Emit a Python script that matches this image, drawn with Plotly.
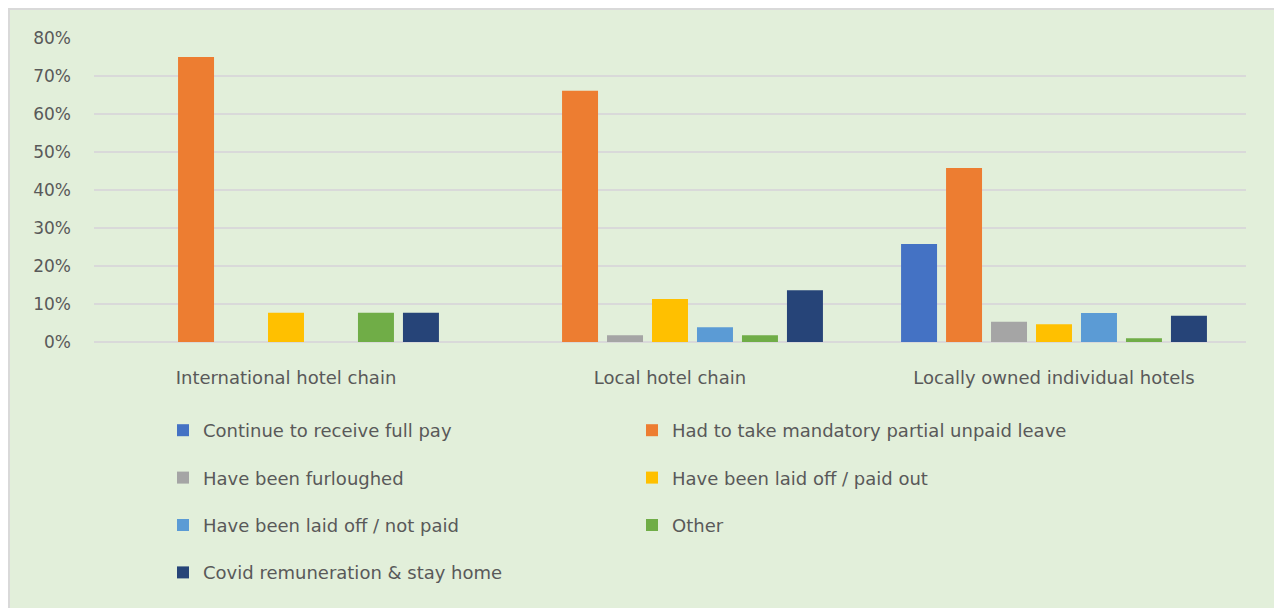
import plotly.graph_objects as go

categories = ["International hotel chain", "Local hotel chain", "Locally owned individual hotels"]

series_names = [
    "Continue to receive full pay",
    "Had to take mandatory partial unpaid leave",
    "Have been furloughed",
    "Have been laid off / paid out",
    "Have been laid off / not paid",
    "Other",
    "Covid remuneration & stay home",
]

full_pay = [0.0, 0.0, 0.258]
unpaid_leave = [0.75, 0.661, 0.458]
furloughed = [0.0, 0.018, 0.053]
laid_off_paid = [0.077, 0.113, 0.047]
laid_off_not_paid = [0.0, 0.039, 0.076]
other = [0.077, 0.018, 0.010]
covid_stay_home = [0.077, 0.136, 0.069]

series_values = [full_pay, unpaid_leave, furloughed, laid_off_paid,
                 laid_off_not_paid, other, covid_stay_home]
colors = ["#4472C4", "#ED7D31", "#A5A5A5", "#FFC000", "#5B9BD5", "#70AD47", "#264478"]
legend_ref = ["legend", "legend2", "legend", "legend2", "legend", "legend2", "legend"]

# page has an 8px body margin; figure coordinates = page coordinates - 8
OFF = 8
W, H = 1282 - OFF, 608 - OFF
L, R, T, B = 94 - OFF, 36, 38 - OFF, 608 - 342
pw, ph = W - L - R, H - T - B

def px_x(x):
    return (x - OFF - L) / pw

def px_y(y):
    return (H - B - (y - OFF)) / ph

FONT = "DejaVu Sans"
TXT = "#595959"

fig = go.Figure()
for name, vals, col, lg in zip(series_names, series_values, colors, legend_ref):
    fig.add_trace(go.Bar(
        name=name, x=categories, y=vals,
        marker=dict(color=col, line=dict(width=0)),
        legend=lg, legendgroup=name,
    ))

fig.add_shape(type="rect", xref="paper", yref="paper",
              x0=px_x(9), x1=px_x(1278), y0=px_y(620), y1=px_y(9),
              fillcolor="#E2EFDA", line=dict(color="#D9D9D9", width=2), layer="below")

legend_common = dict(
    orientation="v", xanchor="left", yanchor="top",
    bgcolor="rgba(0,0,0,0)", borderwidth=0,
    font=dict(family=FONT, size=18, color=TXT),
    tracegroupgap=21, traceorder="grouped", itemclick=False,
)

fig.update_layout(
    width=W, height=H,
    margin=dict(l=L, r=R, t=T, b=B, autoexpand=False),
    paper_bgcolor="white",
    plot_bgcolor="rgba(0,0,0,0)",
    barmode="group",
    bargap=0.18,
    bargroupgap=0.2,
    font=dict(family=FONT, size=18, color=TXT),
    legend=dict(x=px_x(163), y=px_y(412), **legend_common),
    legend2=dict(x=px_x(632), y=px_y(412), **legend_common),
    xaxis=dict(showline=False, showgrid=False, ticks="", ticklabelstandoff=23,
               tickfont=dict(family=FONT, size=18, color=TXT)),
    yaxis=dict(range=[0, 0.8], dtick=0.1, tickformat=".0%", showgrid=True,
               gridcolor="#D9D9D9", gridwidth=2, zeroline=True, zerolinecolor="#D9D9D9",
               zerolinewidth=2, showline=False, ticks="", ticklabelstandoff=22,
               tickfont=dict(family=FONT, size=17, color=TXT)),
)

fig.write_html("out.html")
